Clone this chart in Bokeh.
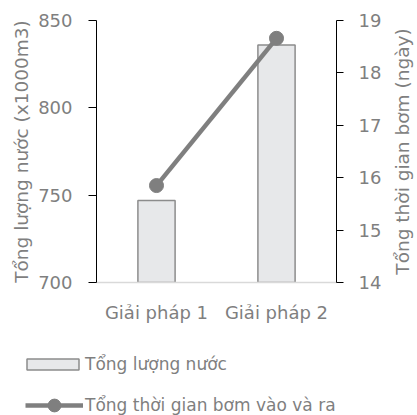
import math
from bokeh.plotting import figure
from bokeh.layouts import column, row
from bokeh.models import (FactorRange, Range1d, LinearAxis, FixedTicker, Legend,
                          LegendItem, ColumnDataSource, Label)
from bokeh.embed import file_html
from bokeh.resources import INLINE

categories = ["Giải pháp 1", "Giải pháp 2"]
water_volume = [747, 836]        # Tổng lượng nước (x1000m3)
pump_days = [15.85, 18.66]       # Tổng thời gian bơm (ngày)
left_ticks = [700, 750, 800, 850]
right_ticks = [14, 15, 16, 17, 18, 19]

FONT = "DejaVu Sans"
TXT = "#7f7f7f"
GRAY = "#7f7f7f"
BAR_FILL = "#e7e8ea"
BAR_LINE = "#8c8c8c"
TICK_FS = "18px"
TITLE_FS = "18.5px"
LEG_FS = "17px"

# ---------------- main chart ----------------
p = figure(width=385, height=330,
           x_range=FactorRange(*categories),
           y_range=Range1d(700, 850),
           output_backend="svg", toolbar_location=None,
           min_border_left=96, min_border_right=49,
           min_border_top=20, min_border_bottom=48)
p.extra_y_ranges = {"days": Range1d(14, 19)}
p.outline_line_color = None
p.xgrid.visible = False
p.ygrid.visible = False

src = ColumnDataSource(dict(cat=categories, water=water_volume, days=pump_days))

p.vbar(x="cat", top="water", bottom=700, width=0.31, source=src,
       fill_color=BAR_FILL, line_color=BAR_LINE, line_width=1.5)
p.line(x="cat", y="days", source=src, y_range_name="days",
       line_color=GRAY, line_width=4.5)
p.scatter(x="cat", y="days", source=src, y_range_name="days",
          size=14, fill_color=GRAY, line_color=GRAY)

xa = p.xaxis[0]
xa.axis_line_color = "#d9d9d9"
xa.axis_line_width = 1.5
xa.major_tick_line_color = None
xa.minor_tick_line_color = None
xa.major_label_text_font = FONT
xa.major_label_text_font_size = TICK_FS
xa.major_label_text_color = TXT
xa.major_label_standoff = 13

ya = p.yaxis[0]
ya.ticker = FixedTicker(ticks=left_ticks)
ya.axis_line_color = "black"
ya.major_tick_line_color = "black"
ya.major_tick_out = 8
ya.major_tick_in = 0
ya.minor_tick_line_color = None
ya.major_label_text_font = FONT
ya.major_label_text_font_size = TICK_FS
ya.major_label_text_color = TXT
ya.major_label_standoff = 16
ya.axis_label = "Tổng lượng nước (x1000m3)"
ya.axis_label_text_font = FONT
ya.axis_label_text_font_size = TITLE_FS
ya.axis_label_text_font_style = "normal"
ya.axis_label_text_color = TXT
ya.axis_label_standoff = 3

ra = LinearAxis(y_range_name="days", ticker=FixedTicker(ticks=right_ticks))
ra.axis_line_color = "black"
ra.major_tick_line_color = "black"
ra.major_tick_out = 7
ra.major_tick_in = 0
ra.minor_tick_line_color = None
ra.major_label_text_font = FONT
ra.major_label_text_font_size = TICK_FS
ra.major_label_text_color = TXT
ra.major_label_standoff = 15
p.add_layout(ra, "right")

# ---------------- right axis title (reads bottom-to-top) ----------------
# (its frame is aligned with the main frame by the row layout)
rfig = figure(width=32, height=330, x_range=Range1d(0, 1), y_range=Range1d(0, 1),
              output_backend="svg", toolbar_location=None,
              x_axis_location=None, y_axis_location=None,
              min_border=0)
rfig.outline_line_color = None
rfig.grid.visible = False
rfig.add_layout(Label(x=17, y=131, x_units="screen", y_units="screen",
                      text="Tổng thời gian bơm (ngày)", angle=math.pi / 2,
                      text_align="center", text_baseline="alphabetic",
                      text_font=FONT, text_font_size=TITLE_FS, text_color=TXT))

# ---------------- legend strip ----------------
lfig = figure(width=417, height=85, x_range=FactorRange(*categories),
              y_range=Range1d(0, 1),
              output_backend="svg", toolbar_location=None,
              x_axis_location=None, y_axis_location=None,
              min_border=0)
lfig.outline_line_color = None
lfig.grid.visible = False
# same series, hidden here: they only supply the legend swatches
lb = lfig.vbar(x="cat", top="water", bottom=700, width=0.31, source=src,
               fill_color=BAR_FILL, line_color=BAR_LINE, line_width=1.5, visible=False)
ll = lfig.line(x="cat", y="days", source=src, line_color=GRAY, line_width=4.5, visible=False)
ls = lfig.scatter(x="cat", y="days", source=src, size=14, fill_color=GRAY,
                  line_color=GRAY, visible=False)

common = dict(padding=0, margin=0, spacing=0, border_line_color=None,
              background_fill_alpha=0, label_text_font=FONT,
              label_text_font_size=LEG_FS, label_text_color=TXT,
              label_height=20, inactive_fill_alpha=0, click_policy="none")
leg1 = Legend(items=[LegendItem(label="Tổng lượng nước", renderers=[lb])],
              location=(20, 41), glyph_width=65, glyph_height=14,
              label_standoff=0, **common)
leg2 = Legend(items=[LegendItem(label="Tổng thời gian bơm vào và ra", renderers=[ll, ls])],
              location=(25, -6), glyph_width=58, glyph_height=32,
              label_standoff=2, **common)
lfig.add_layout(leg1)
lfig.add_layout(leg2)

layout = column(row(p, rfig), lfig)
open("out.html", "w").write(file_html(layout, INLINE))
